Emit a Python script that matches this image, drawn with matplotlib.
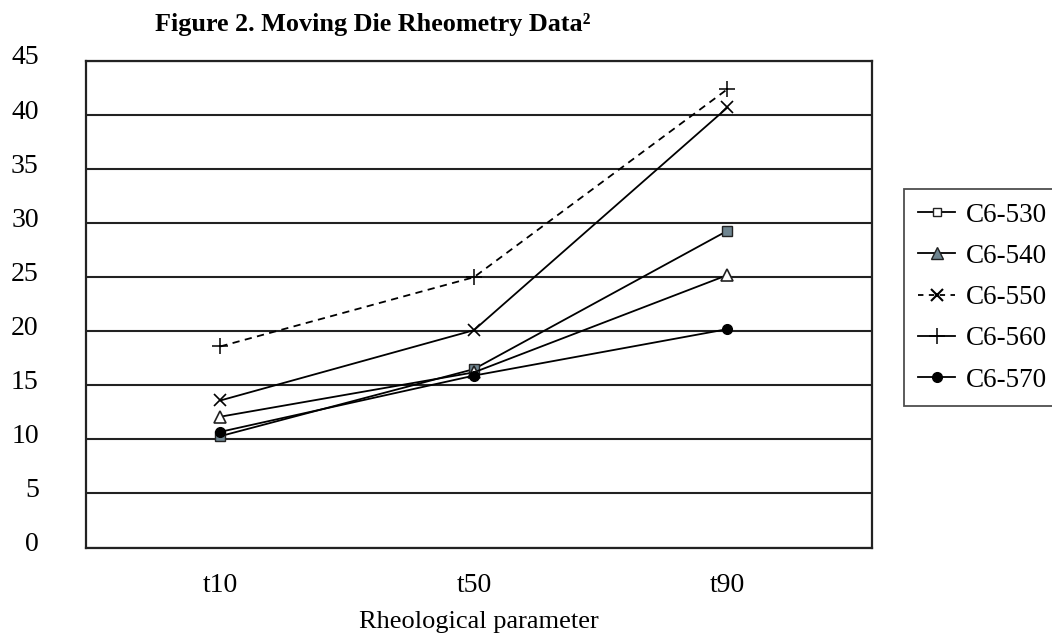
import matplotlib
matplotlib.use("Agg")
import matplotlib.pyplot as plt
from matplotlib.lines import Line2D
from matplotlib.transforms import ScaledTranslation

categories = ["t10", "t50", "t90"]
c6_530 = [10.3, 16.5, 29.3]
c6_540 = [12.1, 16.2, 25.2]
c6_550 = [13.6, 20.1, 40.7]
c6_560 = [18.6, 25.0, 42.4]
c6_570 = [10.7, 15.9, 20.2]
y_ticks = [0, 5, 10, 15, 20, 25, 30, 35, 40, 45]

plt.rcParams['font.family'] = ['Liberation Serif', 'DejaVu Serif']

fig = plt.figure(figsize=(10.52, 6.38), dpi=100)
ax = fig.add_axes([86/1052, 1-547.5/638, (872-86)/1052, (547.5-61)/638])

x = list(range(len(categories)))
lw = 1.3
ax.plot(x, c6_530, color='black', lw=lw, marker='s', markersize=7,
        markerfacecolor='#6f8590', markeredgecolor='#222222', markeredgewidth=1.0, zorder=3)
ax.plot(x, c6_540, color='black', lw=lw, marker='^', markersize=8,
        markerfacecolor='white', markeredgecolor='#222222', markeredgewidth=1.2, zorder=3)
ax.plot(x, c6_550, color='black', lw=lw, marker='x', markersize=9,
        markeredgewidth=1.2, zorder=3)
ax.plot(x, c6_560, color='black', lw=lw, ls=(0, (4, 3)), marker='+', markersize=11,
        markeredgewidth=1.1, zorder=3)
ax.plot(x, c6_570, color='black', lw=lw, marker='o', markersize=7,
        markerfacecolor='black', markeredgecolor='black', zorder=3)

ax.set_xlim(-0.53, 2.57)
ax.set_ylim(0, 45)
ax.set_yticks(y_ticks)
ax.set_xticks(x)
ax.set_xticklabels(categories)
ax.yaxis.grid(True, color='#222222', lw=1.5)
ax.set_axisbelow(True)
ax.tick_params(axis='both', length=0, labelsize=20)
ax.tick_params(axis='y', pad=34)
ax.tick_params(axis='x', pad=18)
shift = ScaledTranslation(0, 6/100, fig.dpi_scale_trans)
for lab in ax.get_yticklabels():
    lab.set_transform(lab.get_transform() + shift)
for s in ax.spines.values():
    s.set_color('#222222')
    s.set_linewidth(1.6)
ax.set_xlabel("Rheological parameter", fontsize=19, labelpad=10)

fig.text(155/1052, 1-24/638, "Figure 2. Moving Die Rheometry Data²",
         ha='left', va='center', fontsize=18.8, weight='bold')

handles = [
    Line2D([], [], color='black', lw=lw, marker='s', markersize=6,
           markerfacecolor='white', markeredgecolor='#222222'),
    Line2D([], [], color='black', lw=lw, marker='^', markersize=8,
           markerfacecolor='#6f8590', markeredgecolor='#222222'),
    Line2D([], [], color='black', lw=lw, ls=(0, (3, 3)), marker='x', markersize=8,
           markeredgewidth=1.5),
    Line2D([], [], color='black', lw=lw, marker='+', markersize=12, markeredgewidth=1.1),
    Line2D([], [], color='black', lw=lw, marker='o', markersize=7,
           markerfacecolor='black'),
]
labels = ["C6-530", "C6-540", "C6-550", "C6-560", "C6-570"]
leg = fig.legend(handles, labels, loc='upper left',
                 bbox_to_anchor=(904/1052, 1-189/638), fontsize=19.5,
                 frameon=True, fancybox=False, shadow=False,
                 handlelength=1.4, handletextpad=0.4, labelspacing=0.6,
                 borderpad=0.5, borderaxespad=0)
leg.get_frame().set_edgecolor('#222222')
leg.get_frame().set_linewidth(1.3)

fig.savefig("out.png", dpi=100)
